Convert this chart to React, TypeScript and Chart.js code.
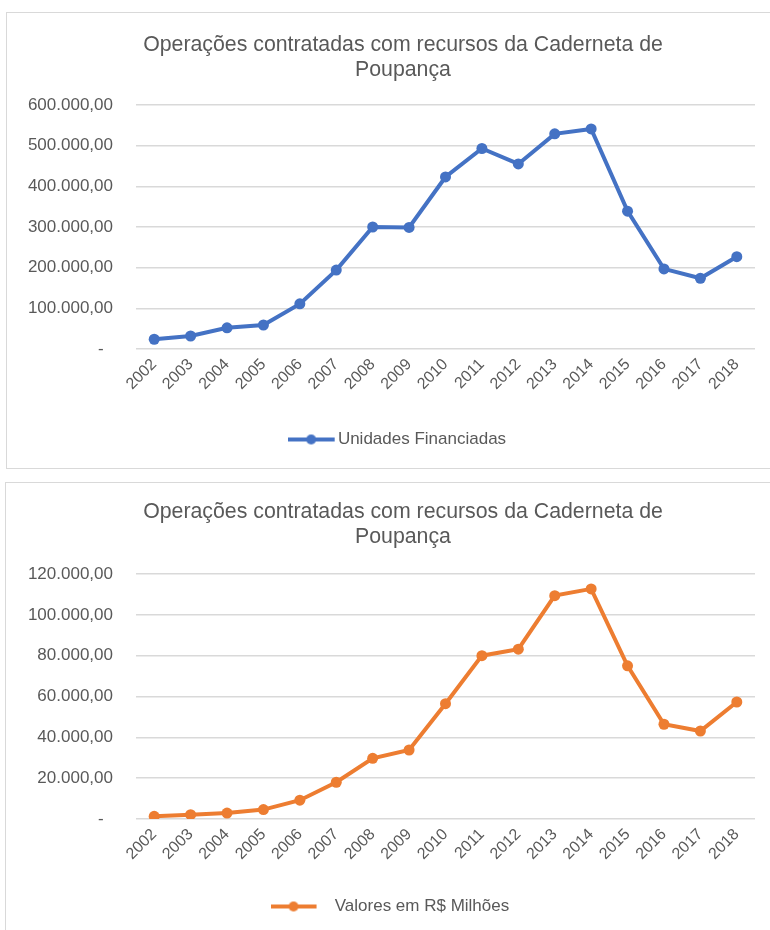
import React, { useEffect, useRef } from "react";
import { Chart, registerables } from "chart.js";

Chart.register(...registerables);

const years = ["2002", "2003", "2004", "2005", "2006", "2007", "2008", "2009", "2010", "2011", "2012", "2013", "2014", "2015", "2016", "2017", "2018"];
const unidadesFinanciadas = [24000, 32000, 52000, 59000, 111000, 194000, 300000, 299000, 423000, 493000, 455000, 529000, 541000, 339000, 197000, 174000, 227000];
const valoresMilhoes = [1300, 2100, 2900, 4600, 9200, 18000, 29700, 33800, 56500, 80000, 83200, 109400, 112700, 75000, 46400, 43100, 57300];
const titleLines = ["Operações contratadas com recursos da Caderneta de", "Poupança"];
const topAxis = { min: 0, max: 600000, step: 100000 };
const bottomAxis = { min: 0, max: 120000, step: 20000 };

const GRAY_TEXT = "#595959";
const GRID = "#d9d9d9";
const FONT = "'Liberation Sans', Arial, sans-serif";
const CANVAS_W = 810;

function fmt(v: number): string {
  if (v === 0) return "-  ";
  const s = Math.round(v).toString().replace(/\B(?=(\d{3})+(?!\d))/g, ".");
  return s + ",00";
}

// legend marker: a line with a dot, drawn at the left part of a symmetric image
function makeMarker(color: string, imgW: number, lineW: number): HTMLCanvasElement {
  const c = document.createElement("canvas");
  c.width = Math.round(imgW);
  c.height = 12;
  const ctx = c.getContext("2d")!;
  ctx.strokeStyle = color;
  ctx.lineWidth = 4;
  ctx.beginPath();
  ctx.moveTo(0, 6);
  ctx.lineTo(lineW, 6);
  ctx.stroke();
  ctx.fillStyle = color;
  ctx.beginPath();
  ctx.arc(lineW / 2, 6, 5, 0, Math.PI * 2);
  ctx.fill();
  return c;
}

type Cfg = {
  label: string;
  data: number[];
  color: string;
  axis: { min: number; max: number; step: number };
  markerImgW: number;
  markerLineW: number;
  padTop: number;
  padBottom: number;
  titlePadBottom: number;
  xHeight: number;
};

function LineChart({ cfg, height }: { cfg: Cfg; height: number }) {
  const ref = useRef<HTMLCanvasElement | null>(null);
  useEffect(() => {
    if (!ref.current) return;
    const marker = makeMarker(cfg.color, cfg.markerImgW, cfg.markerLineW);
    const chart = new Chart(ref.current, {
      type: "line",
      data: {
        labels: years,
        datasets: [
          {
            label: cfg.label,
            data: cfg.data,
            borderColor: cfg.color,
            backgroundColor: cfg.color,
            borderWidth: 4,
            pointRadius: 5.5,
            pointBorderWidth: 0,
            pointBackgroundColor: cfg.color,
            tension: 0,
            yAxisID: "y",
          },
        ],
      },
      options: {
        responsive: false,
        animation: false,
        devicePixelRatio: 1,
        layout: { padding: { left: 10, right: 14, top: cfg.padTop, bottom: cfg.padBottom } },
        plugins: {
          title: {
            display: true,
            text: titleLines,
            color: GRAY_TEXT,
            font: { family: FONT, size: 21.3, weight: "normal", lineHeight: 1.15 },
            padding: { top: 12, bottom: cfg.titlePadBottom },
          },
          legend: {
            display: true,
            position: "bottom",
            labels: {
              color: GRAY_TEXT,
              font: { family: FONT, size: 17 },
              usePointStyle: true,
              pointStyleWidth: 29.5,
              padding: 10,
              generateLabels: (ch: any) =>
                (Chart.defaults.plugins.legend.labels.generateLabels as any)(ch).map((l: any) => ({ ...l, pointStyle: marker })),
            },
          },
          tooltip: { enabled: false },
        },
        scales: {
          x: {
            offset: true,
            grid: { display: false, drawTicks: false },
            border: { display: false },
            ticks: {
              autoSkip: false,
              minRotation: 45,
              maxRotation: 45,
              padding: 6,
              color: GRAY_TEXT,
              font: { family: FONT, size: 16 },
            },
            afterFit: (s: any) => {
              s.height = cfg.xHeight;
            },
          },
          y: {
            min: cfg.axis.min,
            max: cfg.axis.max,
            grid: { color: GRID, lineWidth: 1.5, drawTicks: false },
            border: { display: false },
            ticks: {
              stepSize: cfg.axis.step,
              padding: 23,
              color: GRAY_TEXT,
              font: { family: FONT, size: 17 },
              callback: (v: any) => fmt(Number(v)),
            },
            afterFit: (s: any) => {
              s.width = 126;
            },
          },
          y2: {
            position: "right",
            display: true,
            grid: { display: false, drawTicks: false },
            border: { display: false },
            ticks: { display: false },
            afterFit: (s: any) => {
              s.width = 41;
            },
          },
        },
      },
    } as any);
    return () => chart.destroy();
  }, [cfg]);
  return (
    <canvas
      ref={ref}
      width={CANVAS_W}
      height={height}
      style={{ position: "absolute", left: 0, top: 0, width: CANVAS_W, height }}
    />
  );
}

const topCfg: Cfg = {
  label: "Unidades Financiadas",
  data: unidadesFinanciadas,
  color: "#4472C4",
  axis: topAxis,
  markerImgW: 53.5,
  markerLineW: 47,
  padTop: 21,
  padBottom: 12,
  titlePadBottom: 23,
  xHeight: 72,
};
const bottomCfg: Cfg = {
  label: "Valores em R$ Milhões",
  data: valoresMilhoes,
  color: "#ED7D31",
  axis: bottomAxis,
  markerImgW: 81.5,
  markerLineW: 46,
  padTop: 18,
  padBottom: 5,
  titlePadBottom: 25,
  xHeight: 69,
};

export default function App() {
  return (
    <div style={{ position: "fixed", left: 0, top: 0, width: 770, height: 930, background: "#fff", overflow: "hidden" }}>
      <div style={{ position: "absolute", left: 6, top: 12, width: 780, height: 455, border: `1px solid ${GRID}` }} />
      <div style={{ position: "absolute", left: 5, top: 482, width: 780, height: 470, border: `1px solid ${GRID}` }} />
      <div style={{ position: "absolute", left: 0, top: 0, width: CANVAS_W, height: 470 }}>
        <LineChart cfg={topCfg} height={470} />
      </div>
      <div style={{ position: "absolute", left: 0, top: 470, width: CANVAS_W, height: 460 }}>
        <LineChart cfg={bottomCfg} height={460} />
      </div>
    </div>
  );
}
